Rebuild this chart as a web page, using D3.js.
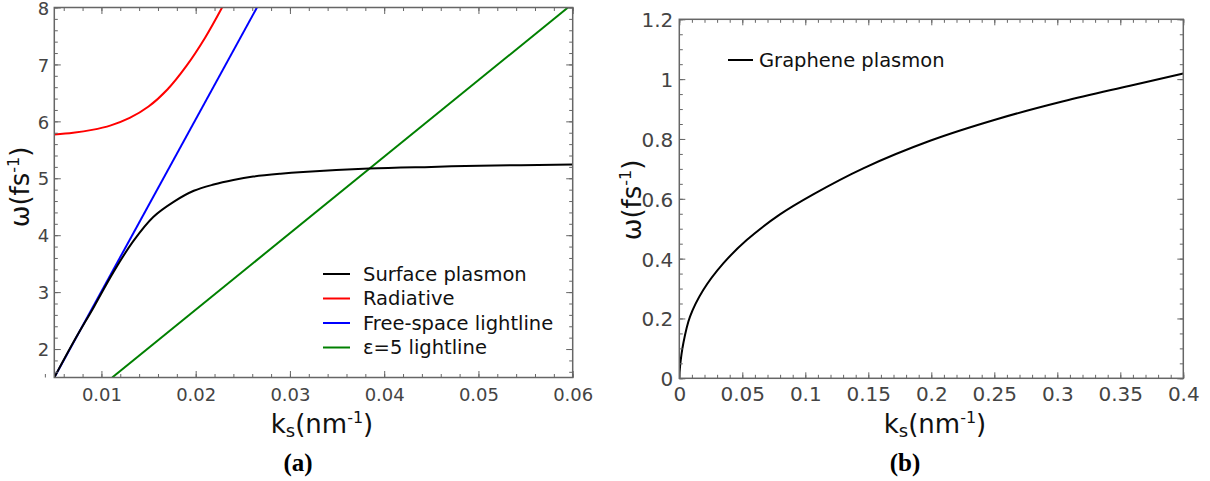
<!DOCTYPE html>
<html>
<head>
<meta charset="utf-8">
<script src="https://cdn.jsdelivr.net/npm/d3@7"></script>
<style>
  html, body { margin: 0; padding: 0; background: #fff; }
  svg { display: block; font-family: "DejaVu Sans", sans-serif; }
</style>
</head>
<body>
<svg id="chart" width="1210" height="481"></svg>
<script>
// ---- Panel (a): metal surface plasmon dispersion, k in nm^-1, omega in fs^-1
const surfacePlasmon = [
  [0.0050, 1.50], [0.0071, 2.14], [0.0092, 2.74], [0.0113, 3.36],
  [0.0134, 3.90], [0.0155, 4.32], [0.0177, 4.59], [0.0198, 4.78],
  [0.0219, 4.89], [0.0240, 4.97], [0.0261, 5.03], [0.0290, 5.08],
  [0.0314, 5.11], [0.0384, 5.17], [0.0450, 5.20], [0.0501, 5.22],
  [0.0600, 5.24]
];
const radiative = [
  [0.0050, 5.77], [0.0070, 5.80], [0.0090, 5.85], [0.0110, 5.93],
  [0.0130, 6.06], [0.0150, 6.26], [0.0170, 6.56], [0.0190, 6.97],
  [0.0210, 7.47], [0.0228, 8.00]
];
const freeSpaceLightline = [[0.0050, 1.50], [0.0265, 8.00]];
const eps5Lightline = [[0.01114, 1.50], [0.0595, 8.00]];

const seriesA = ["Surface plasmon", "Radiative", "Free-space lightline", "\u03b5=5 lightline"];
const coloursA = ["#000000", "#ff0000", "#0000ff", "#008000"];

const xTicksA = [0.01, 0.02, 0.03, 0.04, 0.05, 0.06];
const yTicksA = [2, 3, 4, 5, 6, 7, 8];

// ---- Panel (b): graphene plasmon dispersion
const graphenePlasmon = [
  [0.0000, 0.000], [0.0006, 0.040], [0.0032, 0.117], [0.0085, 0.206],
  [0.0190, 0.295], [0.0349, 0.384], [0.0535, 0.462], [0.0799, 0.548],
  [0.1063, 0.615], [0.1460, 0.702], [0.1990, 0.794], [0.2519, 0.866],
  [0.3048, 0.926], [0.3577, 0.978], [0.4000, 1.019]
];
const xTicksB = [0, 0.05, 0.1, 0.15, 0.2, 0.25, 0.3, 0.35, 0.4];
const yTicksB = [0, 0.2, 0.4, 0.6, 0.8, 1, 1.2];

const svg = d3.select("#chart");

function drawFrame(g, x, y, o) {
  const [xa, xb] = x.range(), [yb, ya] = y.range();
  const fmt = d => d3.format("")(+d.toFixed(4));
  const minorX = d3.range(o.xDomain[0], o.xDomain[1] + 1e-9, o.xMinor);
  const minorY = d3.range(o.yDomain[0], o.yDomain[1] + 1e-9, o.yMinor);
  const tickLayer = (axis, tx, ty) => {
    const a = g.append("g").attr("transform", `translate(${tx},${ty})`).call(axis);
    a.select(".domain").remove();
    a.selectAll(".tick line").attr("stroke", "#666").attr("stroke-width", 1);
    return a;
  };
  // minor ticks on all four sides, pointing inward
  tickLayer(d3.axisBottom(x).tickValues(minorX).tickSize(-o.minor).tickFormat(""), 0, yb);
  tickLayer(d3.axisTop(x).tickValues(minorX).tickSize(-o.minor).tickFormat(""), 0, ya);
  tickLayer(d3.axisLeft(y).tickValues(minorY).tickSize(-o.minor).tickFormat(""), xa, 0);
  tickLayer(d3.axisRight(y).tickValues(minorY).tickSize(-o.minor).tickFormat(""), xb, 0);

  // major ticks, labelled on bottom and left only
  const bx = tickLayer(d3.axisBottom(x).tickValues(o.xTicks).tickSize(-o.major).tickPadding(o.xPad).tickFormat(fmt), 0, yb);
  tickLayer(d3.axisTop(x).tickValues(o.xTicks).tickSize(-o.major).tickFormat(""), 0, ya);
  const ly = tickLayer(d3.axisLeft(y).tickValues(o.yTicks).tickSize(-o.major).tickPadding(o.yPad).tickFormat(fmt), xa, 0);
  tickLayer(d3.axisRight(y).tickValues(o.yTicks).tickSize(-o.major).tickFormat(""), xb, 0);
  [bx, ly].forEach(a => a.selectAll("text")
    .attr("fill", "#444").style("font-size", o.tickFont + "px")
    .style("font-family", "DejaVu Sans, sans-serif"));
  ly.selectAll("text").attr("dy", "0.37em");

  g.append("rect")
    .attr("x", xa).attr("y", ya).attr("width", xb - xa).attr("height", yb - ya)
    .attr("fill", "none").attr("stroke", "#666").attr("stroke-width", 1.5);
}

function kTitle(g, cx, baseline) {
  const t = g.append("text").attr("x", cx).attr("y", baseline)
    .attr("text-anchor", "middle").attr("fill", "#111").style("font-size", "26px");
  t.append("tspan").text("k");
  t.append("tspan").attr("dy", 4).style("font-size", "18px").text("s");
  t.append("tspan").attr("dy", -4).text("(nm");
  t.append("tspan").attr("dy", -10).style("font-size", "16px").text("-1");
  t.append("tspan").attr("dy", 10).text(")");
}

function omegaTitle(g, cx, cy) {
  const t = g.append("text")
    .attr("transform", `translate(${cx},${cy}) rotate(-90)`)
    .attr("text-anchor", "middle").attr("dy", "0.35em")
    .attr("fill", "#111").style("font-size", "26px");
  t.append("tspan").text("\u03c9(fs");
  t.append("tspan").attr("dy", -10).style("font-size", "16px").text("-1");
  t.append("tspan").attr("dy", 10).text(")");
}

function panelLabel(g, cx, baseline, s) {
  g.append("text").attr("x", cx).attr("y", baseline).attr("text-anchor", "middle")
    .style("font-family", "Liberation Serif, serif").style("font-weight", "bold")
    .style("font-size", "25px").attr("fill", "#000").text(s);
}

// ---------------- Panel (a)
{
  const g = svg.append("g");
  const x = d3.scaleLinear().domain([0.005, 0.06]).range([54.3, 572.7]);
  const y = d3.scaleLinear().domain([1.5, 8]).range([377.5, 7.5]);

  g.append("clipPath").attr("id", "clipA").append("rect")
    .attr("x", 54.3).attr("y", 7.5).attr("width", 572.7 - 54.3).attr("height", 370);

  const line = d3.line().x(d => x(d[0])).y(d => y(d[1])).curve(d3.curveCatmullRom);
  const data = [surfacePlasmon, radiative, freeSpaceLightline, eps5Lightline];
  // lightlines underneath, plasmon branches on top
  [2, 3, 1, 0].forEach(i => {
    g.append("path").attr("clip-path", "url(#clipA)")
      .attr("d", line(data[i])).attr("fill", "none")
      .attr("stroke", coloursA[i]).attr("stroke-width", 2);
  });

  drawFrame(g, x, y, {
    xDomain: [0.004, 0.06], xMinor: 0.002, yDomain: [1.6, 8], yMinor: 0.2,
    xTicks: xTicksA, yTicks: yTicksA, major: 6.5, minor: 3.5,
    xPad: 11, yPad: 5, tickFont: 18
  });

  // legend
  const lg = g.append("g");
  seriesA.forEach((name, i) => {
    const yy = 274 + i * 24.5;
    lg.append("line").attr("x1", 323).attr("x2", 350).attr("y1", yy).attr("y2", yy)
      .attr("stroke", coloursA[i]).attr("stroke-width", 2);
    lg.append("text").attr("x", 363).attr("y", yy).attr("dy", "0.35em")
      .attr("fill", "#111").style("font-size", "19.5px").text(name);
  });

  kTitle(g, 322, 433);
  omegaTitle(g, 20, 187);
  panelLabel(g, 298, 471, "(a)");
}

// ---------------- Panel (b)
{
  const g = svg.append("g");
  const x = d3.scaleLinear().domain([0, 0.4]).range([679.3, 1183.3]);
  const y = d3.scaleLinear().domain([0, 1.2]).range([378.3, 19.3]);

  g.append("clipPath").attr("id", "clipB").append("rect")
    .attr("x", 679.3).attr("y", 19.3).attr("width", 504).attr("height", 359);

  const line = d3.line().x(d => x(d[0])).y(d => y(d[1])).curve(d3.curveCatmullRom);
  g.append("path").attr("clip-path", "url(#clipB)")
    .attr("d", line(graphenePlasmon)).attr("fill", "none")
    .attr("stroke", "#000").attr("stroke-width", 2);

  drawFrame(g, x, y, {
    xDomain: [0, 0.4], xMinor: 0.01, yDomain: [0, 1.2], yMinor: 0.05,
    xTicks: xTicksB, yTicks: yTicksB, major: 6, minor: 3.5,
    xPad: 9, yPad: 6, tickFont: 20
  });

  g.append("line").attr("x1", 728).attr("x2", 753).attr("y1", 60).attr("y2", 60)
    .attr("stroke", "#000").attr("stroke-width", 2);
  g.append("text").attr("x", 759).attr("y", 60).attr("dy", "0.35em")
    .attr("fill", "#111").style("font-size", "19.5px").text("Graphene plasmon");

  kTitle(g, 935, 433);
  omegaTitle(g, 632, 200);
  panelLabel(g, 905, 471, "(b)");
}
</script>
</body>
</html>
